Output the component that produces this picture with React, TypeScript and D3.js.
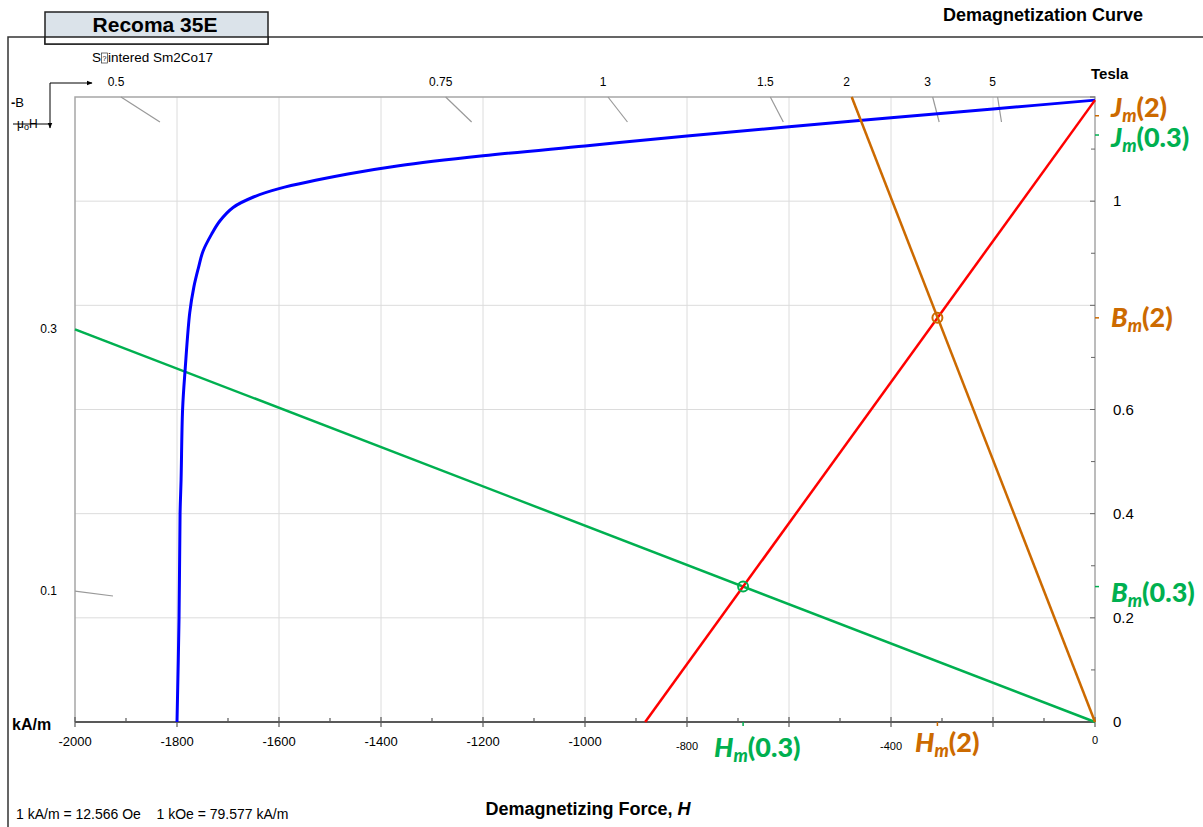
import { useEffect, useRef } from 'react';
import * as d3 from 'd3';

const W = 1203, H = 827;
const PL = 75, PR = 1095, PT = 97, PB = 722;
const MU0 = 4 * Math.PI * 1e-7;

const BLUE = '#0000ff', RED = '#ff0000', GREEN = '#00b050', ORANGE = '#cc6a00';
const FONT = '"Liberation Sans", Arial, sans-serif';
const LFONT = 'Lato, "Open Sans", sans-serif';

// intrinsic J curve (kA/m, T)
const jH = [0, -200, -400, -600, -800, -1000, -1200, -1365, -1465, -1600, -1650, -1690, -1716, -1732, -1749, -1758, -1767, -1775, -1784, -1789, -1792, -1794, -1796, -1800];
const jB = [1.194, 1.177, 1.16, 1.143, 1.125, 1.106, 1.087, 1.068, 1.052, 1.024, 1.008, 0.988, 0.962, 0.937, 0.904, 0.872, 0.835, 0.786, 0.677, 0.601, 0.465, 0.4, 0.2, 0];

// normal B curve
const normalH = [0, -882];
const normalB = [1.194, 0];

// load lines
const pc03H = [0, -2000];
const pc03B = [0, 0.754];
const pc2H = [0, -477];
const pc2B = [0, 1.2];

// operating points
const opNames = ['0.3', '2'];
const opH = [-690, -309];
const opB = [0.26, 0.776];
const opJ = [1.127, 1.164];

// permeance coefficient scale
const pcTop = [0.5, 0.75, 1, 1.5, 2, 3, 5];
const pcLeft = [0.1, 0.3];

const xBigLabels = [-2000, -1800, -1600, -1400, -1200, -1000];
const xSmallLabels = [-800, -400, 0];
const yLabels = [0, 0.2, 0.4, 0.6, 1];

export default function App() {
  const svgRef = useRef<SVGSVGElement>(null);

  useEffect(() => {
    const svg = d3.select(svgRef.current);
    svg.selectAll('*').remove();

    const x = d3.scaleLinear().domain([-2000, 0]).range([PL, PR]);
    const y = d3.scaleLinear().domain([0, 1.2]).range([PB, PT]);

    svg.append('rect').attr('width', W).attr('height', H).attr('fill', '#fff');

    // outer frame
    svg.append('path').attr('d', `M8,${H} V37 H${W}`).attr('fill', 'none').attr('stroke', '#333').attr('stroke-width', 1.5);

    // title box
    svg.append('rect').attr('x', 45).attr('y', 12).attr('width', 223).attr('height', 32)
      .attr('fill', '#dbe3ea').attr('stroke', '#222').attr('stroke-width', 1.5);
    svg.append('rect').attr('x', 45).attr('y', 37).attr('width', 223).attr('height', 7)
      .attr('fill', '#fff').attr('stroke', '#222').attr('stroke-width', 1.5);
    svg.append('text').attr('x', 155).attr('y', 32).attr('text-anchor', 'middle')
      .attr('font-family', FONT).attr('font-size', 21).attr('font-weight', 'bold').text('Recoma 35E');

    svg.append('text').attr('x', 1043).attr('y', 21).attr('text-anchor', 'middle')
      .attr('font-family', FONT).attr('font-size', 18).attr('font-weight', 'bold').text('Demagnetization Curve');

    // subtitle with missing glyph box
    svg.append('text').attr('x', 92).attr('y', 62).attr('font-family', FONT).attr('font-size', 13.5).text('S');
    svg.append('rect').attr('x', 101.5).attr('y', 53).attr('width', 6).attr('height', 10).attr('fill', 'none').attr('stroke', '#333').attr('stroke-width', 0.7);
    svg.append('text').attr('x', 104.5).attr('y', 61).attr('text-anchor', 'middle').attr('font-family', FONT).attr('font-size', 7).text('?');
    svg.append('text').attr('x', 108).attr('y', 62).attr('font-family', FONT).attr('font-size', 13.5).text('intered Sm2Co17');

    // -B / mu0 H indicator
    svg.append('defs').append('marker').attr('id', 'arr').attr('viewBox', '0 0 10 10').attr('refX', 9).attr('refY', 5)
      .attr('markerWidth', 6).attr('markerHeight', 6).attr('orient', 'auto')
      .append('path').attr('d', 'M0,1 L10,5 L0,9 Z').attr('fill', '#000');
    svg.append('path').attr('d', 'M50,83 H92').attr('stroke', '#000').attr('marker-end', 'url(#arr)');
    svg.append('path').attr('d', 'M50,83 V128').attr('stroke', '#000').attr('marker-end', 'url(#arr)');
    const mb = svg.append('text').attr('x', 11).attr('y', 107).attr('font-family', FONT).attr('font-size', 13);
    mb.append('tspan').attr('font-weight', 'bold').text('-');
    mb.append('tspan').text('B');
    const mu = svg.append('text').attr('x', 17).attr('y', 128).attr('font-family', FONT).attr('font-size', 12);
    mu.append('tspan').text('μ');
    mu.append('tspan').attr('font-size', 9).attr('dy', 2).text('o');
    mu.append('tspan').attr('dy', -2).text('H');
    svg.append('line').attr('x1', 13).attr('x2', 49).attr('y1', 124).attr('y2', 124).attr('stroke', '#000');

    // grid
    const g = svg.append('g');
    g.selectAll('.vg').data(d3.range(-1800, 0, 200)).join('line')
      .attr('x1', (d) => x(d)).attr('x2', (d) => x(d)).attr('y1', PT).attr('y2', PB)
      .attr('stroke', '#dcdcdc');
    g.selectAll('.hg').data(d3.range(0.2, 1.1, 0.2)).join('line')
      .attr('class', 'hg')
      .attr('x1', PL).attr('x2', PR).attr('y1', (d) => y(d)).attr('y2', (d) => y(d))
      .attr('stroke', '#dcdcdc');

    // plot border (gray)
    g.append('path').attr('d', `M${PL},${PB} V${PT} H${PR} V${PB}`).attr('fill', 'none').attr('stroke', '#a6a6a6').attr('stroke-width', 1.5);

    // permeance coefficient ticks along top
    pcTop.forEach((pc) => {
      const h0 = -1.2 / (MU0 * pc) / 1000;
      const x0 = x(h0), y0 = y(1.2);
      const dx = (x(0) - x0) * (25 / (y(0) - y0));
      g.append('line').attr('x1', x0).attr('y1', y0).attr('x2', x0 + dx).attr('y2', y0 + 25)
        .attr('stroke', '#999').attr('stroke-width', 1.2);
      g.append('text').attr('x', x0 - 5).attr('y', 86).attr('text-anchor', 'middle')
        .attr('font-family', FONT).attr('font-size', 12).text(String(pc));
    });
    pcLeft.forEach((pc) => {
      const b0 = MU0 * pc * 2000e3;
      const x0 = x(-2000), y0 = y(b0);
      const dy = (y(0) - y0) * (38 / (x(0) - x0));
      g.append('line').attr('x1', x0).attr('y1', y0).attr('x2', x0 + 38).attr('y2', y0 + dy)
        .attr('stroke', '#999').attr('stroke-width', 1.2);
      g.append('text').attr('x', 57).attr('y', y0 + 4).attr('text-anchor', 'end')
        .attr('font-family', FONT).attr('font-size', 12).text(String(pc));
    });

    // right axis ticks
    g.selectAll('.rt').data(d3.range(0, 12.5, 1).map((d) => d / 10)).join('line')
      .attr('x1', (d, i) => PR - (i % 2 === 0 ? 5 : 4)).attr('x2', PR)
      .attr('y1', (d) => y(d)).attr('y2', (d) => y(d)).attr('stroke', '#666');
    g.selectAll('.rl').data(yLabels).join('text')
      .attr('x', 1113).attr('y', (d) => y(d) + 5)
      .attr('font-family', FONT).attr('font-size', 15).text((d) => String(d));

    // bottom axis
    g.append('line').attr('x1', PL).attr('x2', PR).attr('y1', PB).attr('y2', PB).attr('stroke', '#595959').attr('stroke-width', 2);
    g.selectAll('.bt').data(d3.range(-2000, 1, 100)).join('line')
      .attr('x1', (d) => x(d)).attr('x2', (d) => x(d))
      .attr('y1', (d) => (d % 200 === 0 ? PB - 5 : PB - 4)).attr('y2', (d) => (d % 200 === 0 ? PB + 5 : PB))
      .attr('stroke', '#595959').attr('stroke-width', 1.2);
    g.selectAll('.bl').data(xBigLabels).join('text')
      .attr('x', (d) => x(d)).attr('y', 746).attr('text-anchor', 'middle')
      .attr('font-family', FONT).attr('font-size', 13).text((d) => String(d));
    g.selectAll('.bs').data(xSmallLabels).join('text')
      .attr('x', (d) => x(d)).attr('y', (d) => (d === 0 ? 744 : 750)).attr('text-anchor', 'middle')
      .attr('font-family', FONT).attr('font-size', 11).text((d) => String(d));

    // curves
    const line = d3.line<[number, number]>().x((d) => x(d[0])).y((d) => y(d[1]));
    const curve = d3.line<[number, number]>().x((d) => x(d[0])).y((d) => y(d[1])).curve(d3.curveCatmullRom.alpha(0.5));
    const zip = (a: number[], b: number[]) => a.map((v, i) => [v, b[i]] as [number, number]);

    g.append('path').attr('d', line(zip(pc03H, pc03B))).attr('fill', 'none').attr('stroke', GREEN).attr('stroke-width', 2.5);
    g.append('path').attr('d', curve(zip(jH, jB))).attr('fill', 'none').attr('stroke', BLUE).attr('stroke-width', 3);
    g.append('path').attr('d', line(zip(normalH, normalB))).attr('fill', 'none').attr('stroke', RED).attr('stroke-width', 2.5);
    g.append('path').attr('d', line(zip(pc2H, pc2B))).attr('fill', 'none').attr('stroke', ORANGE).attr('stroke-width', 2.5);

    // operating points and axis markers
    const opColors = [GREEN, ORANGE];
    opNames.forEach((n, i) => {
      const c = opColors[i];
      g.append('circle').attr('cx', x(opH[i])).attr('cy', y(opB[i])).attr('r', 5)
        .attr('fill', 'none').attr('stroke', c).attr('stroke-width', 2);
      g.append('line').attr('x1', PR).attr('x2', PR + 4).attr('y1', y(opB[i])).attr('y2', y(opB[i])).attr('stroke', c).attr('stroke-width', 1.5);
      g.append('line').attr('x1', PR).attr('x2', PR + 4).attr('y1', y(opJ[i])).attr('y2', y(opJ[i])).attr('stroke', c).attr('stroke-width', 1.5);
      g.append('line').attr('x1', x(opH[i])).attr('x2', x(opH[i])).attr('y1', PB).attr('y2', PB + 4).attr('stroke', c).attr('stroke-width', 1.5);
    });

    const subLabel = (sym: string, n: string, c: string, tx: number, ty: number) => {
      const t = svg.append('text').attr('x', tx).attr('y', ty).attr('fill', c)
        .attr('font-family', LFONT).attr('font-size', 27).attr('font-weight', 900);
      t.append('tspan').attr('font-style', 'italic').text(sym);
      t.append('tspan').attr('font-style', 'italic').attr('font-size', 18).attr('dy', 5).text('m');
      t.append('tspan').attr('dy', -5).text(`(${n})`);
    };
    subLabel('J', '2', ORANGE, 1111, 117);
    subLabel('J', '0.3', GREEN, 1111, 147);
    subLabel('B', '2', ORANGE, 1111, 327);
    subLabel('B', '0.3', GREEN, 1111, 602);
    subLabel('H', '0.3', GREEN, 714, 757);
    subLabel('H', '2', ORANGE, 915, 752);

    // axis titles
    svg.append('text').attr('x', 1091).attr('y', 79).attr('font-family', FONT).attr('font-size', 15).attr('font-weight', 'bold').text('Tesla');
    svg.append('text').attr('x', 12).attr('y', 730).attr('font-family', FONT).attr('font-size', 16).attr('font-weight', 'bold').text('kA/m');
    const xt = svg.append('text').attr('x', 588).attr('y', 815).attr('text-anchor', 'middle')
      .attr('font-family', FONT).attr('font-size', 18).attr('font-weight', 'bold');
    xt.append('tspan').text('Demagnetizing Force, ');
    xt.append('tspan').attr('font-style', 'italic').text('H');
    svg.append('text').attr('x', 16).attr('y', 819).attr('font-family', FONT).attr('font-size', 14)
      .attr('xml:space', 'preserve').text('1 kA/m = 12.566 Oe    1 kOe = 79.577 kA/m');
  }, []);

  return <svg ref={svgRef} width={W} height={H} style={{ position: 'absolute', left: 0, top: 0 }} />;
}
